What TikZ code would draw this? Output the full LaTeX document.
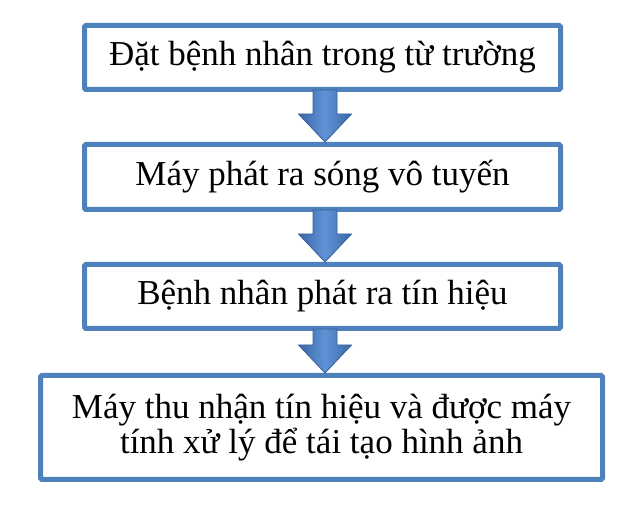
\documentclass[tikz,border=0pt]{standalone}
\usepackage{fontspec}
\setmainfont{Liberation Serif}
\usetikzlibrary{calc}
\definecolor{boxblue}{HTML}{4F81BD}
\definecolor{arrdark}{HTML}{3A67A6}
\definecolor{arrlight}{HTML}{5F93D6}
\definecolor{arredge}{HTML}{36609C}
\tikzset{
  stepbox/.style={draw=boxblue, line width=5pt, fill=white, rounded corners=1.5pt,
    font=\fontsize{35}{35}\selectfont, align=center, inner sep=0pt},
  flowarrow/.style={left color=arrdark, right color=arrdark, middle color=arrlight,
    draw=arredge, line width=0.8pt, line join=miter}
}
\newcommand\flowconn[2]{%
  \path[flowarrow] let \p1=(#1.south), \p2=(#2.north) in
    (\x1-9.5pt,\y1+2pt) -- (\x1-9.5pt,\y2+28pt) -- (\x1-24pt,\y2+28pt) --
    (\x1+2.5pt,\y2) -- (\x1+29pt,\y2+28pt) -- (\x1+14.5pt,\y2+28pt) --
    (\x1+14.5pt,\y1+2pt) -- cycle;}
\begin{document}
\begin{tikzpicture}[x=1pt,y=1pt]
\path[use as bounding box, fill=white] (0,0) rectangle (628,521);
\node[stepbox, minimum width=476pt, minimum height=64pt] (b1) at (322.5,463.5) {Đặt bệnh nhân trong từ trường};
\node[stepbox, minimum width=476pt, minimum height=65pt] (b2) at (322.5,344) {Máy phát ra sóng vô tuyến};
\node[stepbox, minimum width=476pt, minimum height=64pt] (b3) at (322.5,224.5) {Bệnh nhân phát ra tín hiệu};
\node[stepbox, minimum width=562pt, minimum height=104pt] (b4) at (321.5,93.5) {Máy thu nhận tín hiệu và được máy\\tính xử lý để tái tạo hình ảnh};
\flowconn{b1}{b2}
\flowconn{b2}{b3}
\flowconn{b3}{b4}
\end{tikzpicture}
\end{document}
